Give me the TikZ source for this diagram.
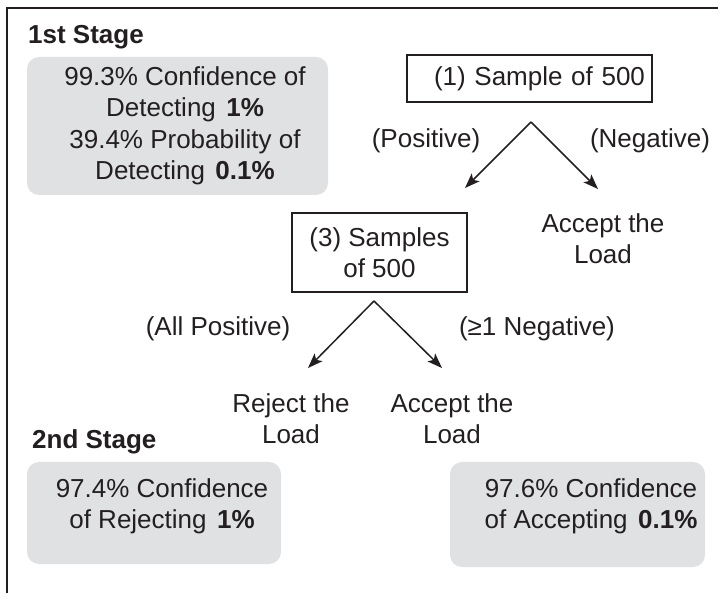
\documentclass[tikz,border=0pt]{standalone}
\usepackage{fontspec}
\setmainfont{Liberation Sans}
\usetikzlibrary{arrows.meta}
\definecolor{panelgray}{RGB}{224,225,227}
\definecolor{inkgray}{RGB}{35,31,32}
\tikzset{
  stagebox/.style={fill=panelgray, rounded corners=12pt, inner sep=0pt},
  samplebox/.style={draw=inkgray, line width=1.5pt, inner sep=0pt, text=inkgray},
  txt/.style={inner sep=0pt, align=center, text=inkgray},
  heading/.style={txt, font=\fontsize{26}{31.5}\selectfont\bfseries},
  branch/.style={draw=inkgray, line width=1.5pt, -{Stealth[length=15pt,width=11pt,inset=3.5pt]}}
}

\begin{document}
\begin{tikzpicture}[x=1pt, y=-1pt, font=\fontsize{26}{31.5}\selectfont]
    \useasboundingbox (0,0) rectangle (718,593);
    \draw[inkgray, line width=1.6pt] (718,8) -- (7,8) -- (7,593);

    \node[heading, anchor=base west] (stage1) at (28,44) {1st Stage};
    \node[heading, anchor=base west] (stage2) at (32,449) {2nd Stage};

    \node[stagebox, minimum width=301pt, minimum height=138pt] (g1) at (177.5,126) {};
    \node[stagebox, minimum width=254pt, minimum height=102pt] (g2) at (154,513) {};
    \node[stagebox, minimum width=255pt, minimum height=105pt] (g3) at (577.5,514.5) {};
    \node[txt, anchor=north] (conf1) at (185,66) {99.3\% Confidence of\\Detecting\hspace{.4em}\textbf{1\%}\\39.4\% Probability of\\Detecting\hspace{.4em}\textbf{0.1\%}};
    \node[txt, anchor=north] (rejconf) at (162,478) {97.4\% Confidence\\of Rejecting\hspace{.4em}\textbf{1\%}};
    \node[txt, anchor=north] (accconf) at (591,478) {97.6\% Confidence\\of Accepting\hspace{.4em}\textbf{0.1\%}};

    \node[samplebox, minimum width=245pt, minimum height=47pt, text width=231pt, align=right, inner xsep=7pt] (s1) at (529.5,78.5) {(1) Sample of 500};
    \node[samplebox, minimum width=175pt, minimum height=79pt, align=center] (s3) at (379.5,252.5) {(3) Samples\\of 500};

    \node[txt, anchor=north] (accept1) at (603,213) {Accept the\\Load};
    \node[txt, anchor=north] (reject2) at (291,393) {Reject the\\Load};
    \node[txt, anchor=north] (accept2) at (452,393) {Accept the\\Load};

    \coordinate (fork1) at (531,122);
    \coordinate (pos1) at (465,188);
    \coordinate (neg1) at (598,189);
    \coordinate (fork3) at (374,301);
    \coordinate (pos3) at (308,368);
    \coordinate (neg3) at (442,368);
    \draw[branch] (fork1) -- (pos1);
    \draw[branch] (fork1) -- (neg1);
    \draw[branch] (fork3) -- (pos3);
    \draw[branch] (fork3) -- (neg3);

    \node[txt, anchor=base] (poslbl) at (426,148) {(Positive)};
    \node[txt, anchor=base] (neglbl) at (650,148) {(Negative)};
    \node[txt, anchor=base] (allpos) at (218,336) {(All Positive)};
    \node[txt, anchor=base] (oneneg) at (537,336) {(≥1 Negative)};
\end{tikzpicture}
\end{document}
